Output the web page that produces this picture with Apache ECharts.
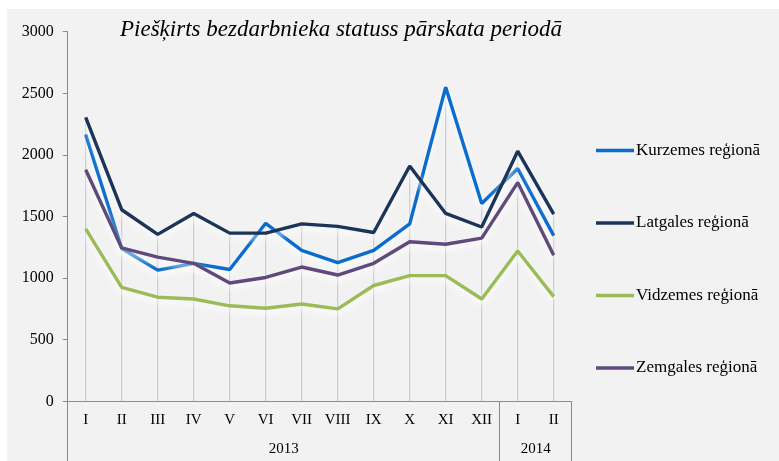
<!DOCTYPE html>
<html>
<head>
<meta charset="utf-8">
<script src="https://cdn.jsdelivr.net/npm/echarts@6/dist/echarts.min.js"></script>
<style>
  html, body { margin: 0; padding: 0; background: #fff; }
  #chart {
    width: 779px; height: 461px;
    background: linear-gradient(#f2f2f2, #f2f2f2) 7px 9px / 772px 452px no-repeat, #fff;
  }
</style>
</head>
<body>
<div id="chart"></div>
<script>
const months = ['I', 'II', 'III', 'IV', 'V', 'VI', 'VII', 'VIII', 'IX', 'X', 'XI', 'XII', 'I', 'II']
const years = ['2013', '2014']
const yearMonths = [12, 2]
const yTicks = [0, 500, 1000, 1500, 2000, 2500, 3000]

const names = ['Kurzemes reģionā', 'Latgales reģionā', 'Vidzemes reģionā', 'Zemgales reģionā']
const kurzeme = [2165, 1240, 1065, 1120, 1070, 1445, 1225, 1125, 1225, 1440, 2550, 1605, 1890, 1345]
const latgale = [2305, 1555, 1355, 1525, 1365, 1365, 1440, 1420, 1370, 1910, 1525, 1415, 2030, 1520]
const vidzeme = [1400, 925, 845, 830, 775, 755, 790, 750, 940, 1020, 1020, 830, 1220, 850]
const zemgale = [1880, 1245, 1170, 1120, 960, 1005, 1090, 1025, 1120, 1295, 1275, 1325, 1775, 1185]

const colors = ['#0a6ccc', '#1b355a', '#9bbb59', '#5f4a7b']
const seriesData = [kurzeme, latgale, vidzeme, zemgale]

// drop lines: from the highest point of each month down to the axis
const dropLines = months.map((m, i) => Math.max(kurzeme[i], latgale[i], vidzeme[i], zemgale[i]))

// year group boundaries and label centers, in category units
let bounds = [0]
let centers = []
let acc = 0
for (let n of yearMonths) {
  centers.push(acc + n / 2)
  acc += n
  bounds.push(acc)
}

const serif = 'Liberation Serif'
const axisColor = '#8c8c8c'

var myChart = echarts.init(document.getElementById('chart'))
var option = {
  animation: false,
  title: {
    text: 'Piešķirts bezdarbnieka statuss pārskata periodā',
    left: 115,
    top: 13,
    textStyle: {
      fontFamily: serif,
      fontStyle: 'italic',
      fontWeight: 'normal',
      fontSize: 23,
      color: '#000'
    }
  },
  legend: {
    data: names,
    orient: 'vertical',
    left: 591,
    top: 137,
    icon: 'rect',
    itemWidth: 38,
    itemHeight: 3.5,
    itemGap: 55.5,
    textStyle: {
      fontFamily: serif,
      fontSize: 17,
      color: '#000',
      padding: [0, 0, 0, -3]
    }
  },
  grid: {
    left: 67.7,
    right: 207.3,
    top: 31.7,
    bottom: 59.7,
    containLabel: false
  },
  xAxis: [
    {
      type: 'category',
      data: months,
      boundaryGap: true,
      axisLine: { lineStyle: { color: axisColor, width: 1 } },
      axisTick: { show: false },
      axisLabel: {
        fontFamily: serif,
        fontSize: 15,
        color: '#000',
        margin: 11,
        interval: 0
      }
    },
    {
      type: 'value',
      position: 'bottom',
      min: 0,
      max: months.length,
      interval: 1,
      axisLine: { show: false },
      splitLine: { show: false },
      axisTick: {
        show: true,
        customValues: bounds,
        length: 60,
        lineStyle: { color: axisColor, width: 1 }
      },
      axisLabel: {
        customValues: centers,
        fontFamily: serif,
        fontSize: 15,
        color: '#000',
        margin: 40,
        formatter: (v) => years[centers.indexOf(v)]
      }
    }
  ],
  yAxis: {
    type: 'value',
    min: yTicks[0],
    max: yTicks[yTicks.length - 1],
    interval: 500,
    axisLine: { show: true, lineStyle: { color: axisColor, width: 1 } },
    axisTick: { show: true, length: 5, lineStyle: { color: axisColor } },
    splitLine: { show: false },
    axisLabel: {
      fontFamily: serif,
      fontSize: 16,
      color: '#000',
      margin: 14,
      formatter: (v) => String(v)
    }
  },
  series: [
    {
      name: 'drop',
      type: 'bar',
      barWidth: 1,
      silent: true,
      z: 1,
      itemStyle: { color: '#c4c4c4' },
      data: dropLines
    }
  ].concat(names.map((name, k) => ({
    name: name,
    type: 'line',
    symbol: 'none',
    z: 3 + k,
    data: seriesData[k],
    itemStyle: { color: colors[k] },
    lineStyle: {
      color: colors[k],
      width: 3.4,
      shadowColor: 'rgba(255,255,255,1)',
      shadowBlur: 6,
      shadowOffsetY: 4
    }
  })))
}
myChart.setOption(option)
</script>
</body>
</html>
